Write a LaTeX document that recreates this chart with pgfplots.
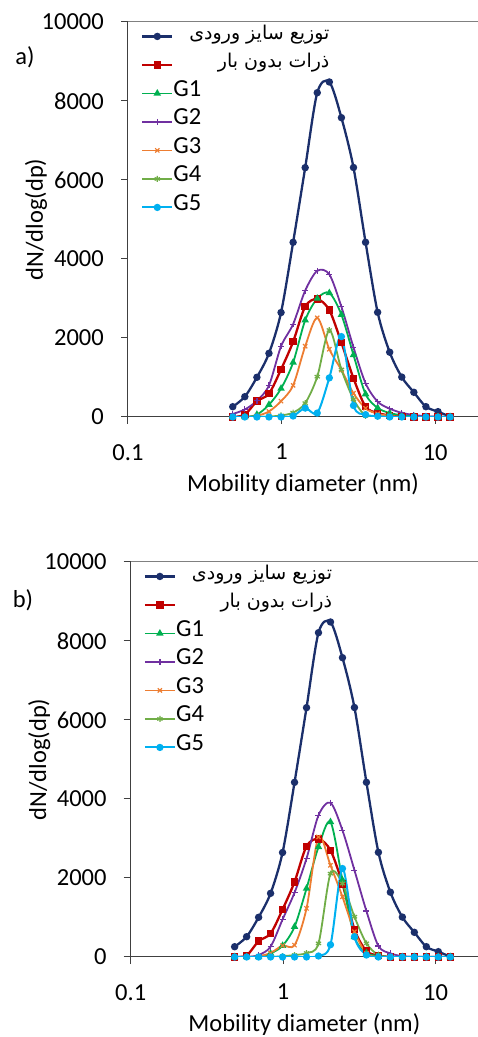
\documentclass[border=0pt]{standalone}
\usepackage{fontspec}
\setmainfont{Carlito}
\newfontfamily\arabicfont[Script=Arabic]{DejaVu Sans}
\usepackage{pgfplots}
\usepackage{pgfplotstable}
\pgfplotsset{compat=1.18}
\TeXXeTstate=1

\definecolor{cin}{HTML}{1B2F6B}
\definecolor{cun}{HTML}{C00000}
\definecolor{cga}{HTML}{00B050}
\definecolor{cgb}{HTML}{7030A0}
\definecolor{cgc}{HTML}{ED7D31}
\definecolor{cgd}{HTML}{70AD47}
\definecolor{cge}{HTML}{00B0F0}

\newcommand\f{\fontsize{24.5bp}{29bp}\selectfont}
\newcommand\fa{\fontsize{19bp}{24bp}\selectfont}

% panel a
\pgfplotstableread{
x       in    un    ga    gb    gc    gd    ge
0.4808  260   0     0     76    0     0     0
0.5763  514   60    0     190   0     0     0
0.6906  1005  400   60    410   30    0     0
0.8275  1612  590   310   800   140   10    0
0.9917  2645  1205  720   1790  400   40    0
1.1885  4422  1905  1380  2350  800   110   25
1.4243  6312  2795  2450  3200  1790  350   225
1.7068  8210  2985  3000  3700  2510  1020  100
2.0455  8481  2705  3140  3610  1715  2200  990
2.4517  7577  1880  2590  2790  1190  1200  2035
2.9380  6316  980   1570  1764  600   450   290
3.5210  4423  260   580   853   220   30    60
4.2200  2650  100   230   388   80    0     20
5.0560  1640  40    100   210   30    0     0
6.0600  1010  15    45    105   0     0     0
7.2610  625   0     20    50    0     0     0
8.7010  261   0     0     20    0     0     0
10.430  135   0     0     5     0     0     0
12.500  8     0     0     0     0     0     0
}\tabA

% panel b
\pgfplotstableread{
x       in    un    ga    gb    gc    gd    ge
0.4808  260   0     0     0     0     0     0
0.5763  514   40    0     0     0     0     0
0.6906  1005  400   0     50    20    0     0
0.8275  1612  595   90    261   100   0     0
0.9917  2645  1204  286   950   290   20    0
1.1885  4422  1902  766   1630  300   50    0
1.4243  6312  2803  1734  2492  1230  100   0
1.7068  8210  2990  2786  3586  3040  345   25
2.0455  8481  2702  3418  3906  2320  2110  310
2.4517  7577  1850  1944  3207  1524  1860  2240
2.9380  6316  700   510   2197  640   1019  513
3.5210  4423  150   100   1162  93    345   50
4.2200  2650  40    30    278   0     50    0
5.0560  1640  0     0     93    0     0     0
6.0600  1010  0     0     20    0     0     0
7.2610  625   0     0     0     0     0     0
8.7010  261   0     0     0     0     0     0
10.430  135   0     0     0     0     0     0
12.500  8     0     0     0     0     0     0
}\tabB

\pgfplotsset{
  common/.style={
    scale only axis, height=395bp,
    xmin=0.1, xmax=19, ymin=0, ymax=10000,
    axis lines=left, axis line style={-, black!75, line width=1bp},
    xtick={0.1,1,10}, xticklabels={0.1,1,10},
    ytick={0,2000,4000,6000,8000,10000},
    yticklabels={0,2000,4000,6000,8000,10000},
    scaled y ticks=false,
    xminorticks=false, tick align=outside, major tick length=7bp,
    tick style={black!75, line width=1bp},
    /pgf/number format/assume math mode=true,
    tick label style={font=\f},
    xticklabel style={anchor=north, inner sep=0pt, yshift=-20bp},
    yticklabel style={anchor=east, inner sep=0pt, xshift=-17bp},
    xlabel={Mobility diameter (nm)},
    ylabel={dN/dlog(dp)},
    every axis x label/.style={at={(axis description cs:0.5,-0.172)}, anchor=center, font=\f},
    every axis y label/.style={at={(axis description cs:-0.263,0.5)}, rotate=90, anchor=center, font=\f},
    legend cell align=left,
    legend style={draw=none, fill=none, font=\f,
      at={(axis description cs:0.037,1.0)}, anchor=north west,
      inner sep=0pt, row sep=0pt,
      nodes={inner sep=0pt, text height=17bp, text depth=11.5bp}},
    legend image code/.code={
      \draw[mark repeat=2,mark phase=2,##1] plot coordinates {(0bp,0bp) (15bp,0bp) (30bp,0bp)};},
  },
  pin/.style={cin, line width=2.3bp, smooth, tension=0.5, mark=*, mark size=2.5bp},
  pun/.style={cun, line width=2.3bp, smooth, tension=0.5, mark=square*, mark size=2.6bp},
  pga/.style={cga, line width=1.8bp, smooth, tension=0.5, mark=triangle*, mark size=2.6bp},
  pgb/.style={cgb, line width=1.8bp, smooth, tension=0.5, mark=+, mark size=3bp, mark options={line width=1.2bp}},
  pgc/.style={cgc, line width=1.8bp, smooth, tension=0.5, mark=x, mark size=3bp, mark options={line width=1.2bp}},
  pgd/.style={cgd, line width=1.8bp, smooth, tension=0.5, mark=asterisk, mark size=3bp, mark options={line width=1.2bp}},
  pge/.style={cge, line width=2bp, smooth, tension=0.5, mark=*, mark size=2.6bp},
}

\newcommand\series[1]{%
  \addplot[pin] table[x=x,y=in] {#1};
  \addlegendentry{\makebox[156bp][r]{\smash{\fa\arabicfont\beginR توزیع سایز ورودی\endR}}}
  \addplot[pun] table[x=x,y=un] {#1};
  \addlegendentry{\makebox[156bp][r]{\smash{\fa\arabicfont\beginR ذرات بدون بار\endR}}}
  \addplot[pga] table[x=x,y=ga] {#1};
  \addlegendentry{G1}
  \addplot[pgb] table[x=x,y=gb] {#1};
  \addlegendentry{G2}
  \addplot[pgc] table[x=x,y=gc] {#1};
  \addlegendentry{G3}
  \addplot[pgd] table[x=x,y=gd] {#1};
  \addlegendentry{G4}
  \addplot[pge] table[x=x,y=ge] {#1};
  \addlegendentry{G5}
  \draw[gray, line width=1bp] (rel axis cs:0,1) -- (rel axis cs:1,1);
}

\begin{document}
\begin{tikzpicture}[x=1bp,y=1bp]
\useasboundingbox (0,0) rectangle (478,1037);

\begin{axis}[xmode=log, common, width=350bp, at={(128bp,620bp)}, anchor=south west]
\series{\tabA}
\end{axis}

\begin{axis}[xmode=log, common, width=347.3bp, at={(130.7bp,80bp)}, anchor=south west]
\series{\tabB}
\end{axis}

\node[font=\f] at (25,980) {a)};
\node[font=\f] at (23,437) {b)};
\end{tikzpicture}
\end{document}
